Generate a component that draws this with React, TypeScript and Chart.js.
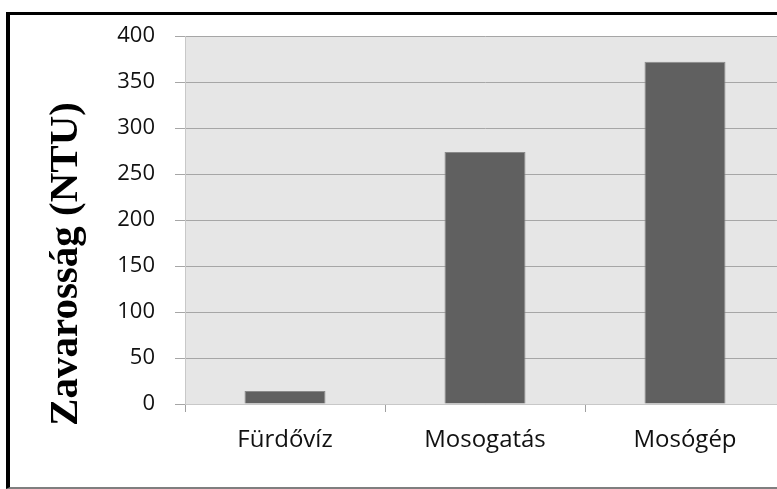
import React, { useEffect, useRef } from "react";
import { Chart, registerables } from "chart.js";

Chart.register(...registerables);

const categories = ["Fürdővíz", "Mosogatás", "Mosógép"];
const turbidity = [14, 274, 372];
const yTitle = "Zavarosság (NTU)";
const yMin = 0;
const yMax = 400;
const yStep = 50;

const plotBg = {
  id: "plotBg",
  beforeDraw(chart: any) {
    const { ctx, chartArea } = chart;
    ctx.save();
    ctx.fillStyle = "#e6e6e6";
    ctx.fillRect(chartArea.left, chartArea.top, chartArea.right - chartArea.left, chartArea.bottom - chartArea.top);
    ctx.restore();
  },
};

const sideTitle = {
  id: "sideTitle",
  afterDraw(chart: any) {
    const { ctx } = chart;
    ctx.save();
    ctx.translate(77, 264);
    ctx.rotate(-Math.PI / 2);
    ctx.font = "bold 41px 'Liberation Serif', 'Times New Roman', serif";
    ctx.fillStyle = "#000000";
    ctx.textAlign = "center";
    ctx.textBaseline = "alphabetic";
    ctx.fillText(yTitle, 0, 0);
    ctx.restore();
  },
};

export default function App() {
  const canvasRef = useRef<HTMLCanvasElement | null>(null);

  useEffect(() => {
    if (!canvasRef.current) return;
    const chart = new Chart(canvasRef.current, {
      type: "bar",
      data: {
        labels: categories,
        datasets: [
          {
            data: turbidity,
            backgroundColor: "#606060",
            borderColor: "#8a8a8a",
            borderWidth: 1,
            barPercentage: 0.405,
            categoryPercentage: 1,
          },
        ],
      },
      options: {
        animation: false,
        responsive: false,
        devicePixelRatio: 1,
        layout: { padding: { left: 0, top: 36, right: 15, bottom: 0 } },
        plugins: {
          legend: { display: false },
          tooltip: { enabled: false },
          title: { display: false },
        },
        scales: {
          x: {
            type: "category",
            afterFit: (axis: any) => {
              axis.height = 85;
            },
            grid: {
              offset: true,
              drawOnChartArea: false,
              drawTicks: true,
              tickLength: 8,
              tickColor: "#a0a0a0",
            },
            border: { display: true, color: "#c8c8c8", width: 1 },
            ticks: {
              color: "#111111",
              padding: 14,
              font: { family: "'Open Sans', sans-serif", size: 24 },
              maxRotation: 0,
            },
          },
          y: {
            min: yMin,
            max: yMax,
            afterFit: (axis: any) => {
              axis.width = 185;
            },
            grid: {
              color: "#a6a6a6",
              lineWidth: 1,
              drawTicks: true,
              tickLength: 10,
              tickColor: "#a6a6a6",
            },
            border: { display: true, color: "#c8c8c8", width: 1 },
            ticks: {
              stepSize: yStep,
              color: "#111111",
              padding: 20,
              font: { family: "'Open Sans', sans-serif", size: 22 },
            },
          },
        },
      },
      plugins: [plotBg, sideTitle],
    });
    return () => chart.destroy();
  }, []);

  return (
    <div
      style={{
        position: "fixed",
        left: 0,
        top: 0,
        width: 777,
        height: 489,
        overflow: "hidden",
        background: "#ffffff",
      }}
    >
      <canvas
        ref={canvasRef}
        width={800}
        height={489}
        style={{ position: "absolute", left: 0, top: 0, width: 800, height: 489 }}
      />
      <div
        style={{
          position: "absolute",
          left: 6,
          top: 12,
          width: 900,
          height: 472,
          borderLeft: "4px solid #000000",
          borderTop: "3px solid #000000",
          borderBottom: "2px solid #7f7f7f",
          pointerEvents: "none",
        }}
      />
    </div>
  );
}
